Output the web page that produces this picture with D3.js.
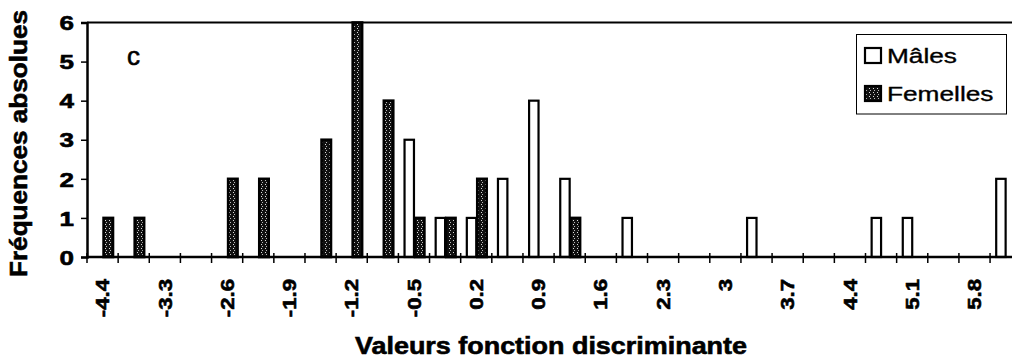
<!DOCTYPE html>
<html><head><meta charset="utf-8">
<script src="https://cdn.jsdelivr.net/npm/d3@7/dist/d3.min.js"></script>
<style>
body{margin:0;background:#fff;}
text{font-family:"Liberation Sans",Arial,Helvetica,sans-serif;fill:#000;}
.heavy{stroke:#000;stroke-width:0.6px;}
.semi{stroke:#000;stroke-width:0.35px;}
</style></head>
<body>
<svg id="c" width="1012" height="364"></svg>
<script>
// ---- data ----
const categories = [-4.4, -3.65, -3.3, -2.95, -2.6, -2.25, -1.9, -1.55, -1.2, -0.85,
  -0.5, -0.15, 0.2, 0.55, 0.9, 1.25, 1.6, 1.95, 2.3, 2.65,
  3, 3.35, 3.7, 4.05, 4.4, 4.75, 5.1, 5.45, 5.8, 6.15];
const males   = [0,0,0,0,0,0,0,0,0,0, 3,1,1,2,4,2,0,1,0,0, 0,1,0,0,0,1,1,0,0,2];
const femelles= [1,1,0,0,2,2,0,3,6,4, 1,1,2,0,0,1,0,0,0,0, 0,0,0,0,0,0,0,0,0,0];
const seriesNames = ["Mâles","Femelles"];
const yTicks = [0,1,2,3,4,5,6];
const yTitle = "Fréquences absolues";
const xTitle = "Valeurs fonction discriminante";
const panelLabel = "c";

const svg = d3.select("#c");
const mLeft = 87, mTop = 22.5, mBottom = 257, step = 31.14;
const mRight = mLeft + step*categories.length;

const defs = svg.append("defs");
const pat = defs.append("pattern").attr("id","fem").attr("patternUnits","userSpaceOnUse")
  .attr("width",4).attr("height",4);
pat.append("rect").attr("width",4).attr("height",4).attr("fill","#111");
pat.append("rect").attr("x",1).attr("y",0).attr("width",1).attr("height",1).attr("fill","#ddd");
pat.append("rect").attr("x",2).attr("y",2).attr("width",1).attr("height",1).attr("fill","#bbb");

const x0 = d3.scaleBand().domain(categories.map((d,i)=>i)).range([mLeft,mRight])
  .paddingInner(0.33).paddingOuter(0.165);
const x1 = d3.scaleBand().domain(seriesNames).range([0,x0.bandwidth()]);
const y = d3.scaleLinear().domain([0,6]).range([mBottom,mTop]);

// top border
svg.append("line").attr("x1",mLeft).attr("x2",1012).attr("y1",mTop).attr("y2",mTop)
  .attr("stroke","#000").attr("stroke-width",2);

// bars
const data = [];
categories.forEach((c,i)=>{
  data.push({i, s:"Mâles", v:males[i]});
  data.push({i, s:"Femelles", v:femelles[i]});
});
svg.append("g").selectAll("rect").data(data.filter(d=>d.v>0)).join("rect")
  .attr("x",d=>x0(d.i)+x1(d.s)+1)
  .attr("width",x1.bandwidth()-1)
  .attr("y",d=>y(d.v))
  .attr("height",d=>mBottom-y(d.v))
  .attr("fill",d=>d.s==="Mâles"?"#fff":"url(#fem)")
  .attr("stroke","#000").attr("stroke-width",d=>d.s==="Mâles"?2.2:2.6);

// y axis
const ya = svg.append("g").attr("transform",`translate(${mLeft},0)`)
  .call(d3.axisLeft(y).tickValues(yTicks).tickSize(6).tickPadding(7).tickFormat(d3.format("d")));
ya.select(".domain").attr("stroke-width",2.5);
ya.selectAll(".tick line").attr("stroke-width",1.5);
ya.selectAll("text").attr("font-size",20).attr("font-weight","bold").attr("dy","0.36em")
  .attr("class","heavy");

// x axis line and boundary ticks
svg.append("line").attr("x1",mLeft).attr("x2",1012).attr("y1",mBottom).attr("y2",mBottom)
  .attr("stroke","#000").attr("stroke-width",2.5);
svg.append("g").selectAll("line").data(d3.range(categories.length+1)).join("line")
  .attr("x1",i=>mLeft+i*step).attr("x2",i=>mLeft+i*step)
  .attr("y1",mBottom-4).attr("y2",mBottom+6)
  .attr("stroke","#000").attr("stroke-width",1.5);

// x tick labels (every other category)
const xl = svg.append("g").selectAll("text")
  .data(categories.map((c,i)=>({c,i})).filter(d=>d.i%2===0)).join("text")
  .attr("transform",d=>`translate(${x0(d.i)+x0.bandwidth()/2},279) rotate(-90)`)
  .attr("text-anchor","end").attr("dy","0.36em")
  .attr("font-size",18.5).attr("font-weight","bold").attr("class","heavy")
  .text(d=>String(d.c));

function stretch(sel,f){
  sel.each(function(){
    const L=this.getComputedTextLength();
    d3.select(this).attr("textLength",L*f).attr("lengthAdjust","spacingAndGlyphs");
  });
}
stretch(xl,1.2);
stretch(ya.selectAll("text"),1.3);

// titles
svg.append("text").attr("x",551).attr("y",354).attr("text-anchor","middle")
  .attr("font-size",24).attr("font-weight","bold").attr("class","heavy")
  .attr("textLength",392).attr("lengthAdjust","spacingAndGlyphs").text(xTitle);
svg.append("text").attr("transform","translate(27,143.5) rotate(-90)").attr("text-anchor","middle")
  .attr("font-size",24).attr("font-weight","bold").attr("class","heavy")
  .attr("textLength",267).attr("lengthAdjust","spacingAndGlyphs").text(yTitle);

svg.append("text").attr("x",127).attr("y",65).attr("font-size",26).attr("class","heavy").text(panelLabel);

// legend
const lg = svg.append("g");
lg.append("rect").attr("x",856.5).attr("y",34.5).attr("width",150).attr("height",79.5)
  .attr("fill","#fff").attr("stroke","#000").attr("stroke-width",1);
seriesNames.forEach((s,k)=>{
  const cy = k===0?55:93;
  lg.append("rect").attr("x",865).attr("y",cy-7).attr("width",16).attr("height",15)
    .attr("fill",k===0?"#fff":"url(#fem)").attr("stroke","#000").attr("stroke-width",2.2);
  const t = lg.append("text").attr("x",887).attr("y",cy+8).attr("font-size",20.5)
    .attr("class","semi").text(s);
  stretch(t,1.28);
});
</script>
</body></html>
